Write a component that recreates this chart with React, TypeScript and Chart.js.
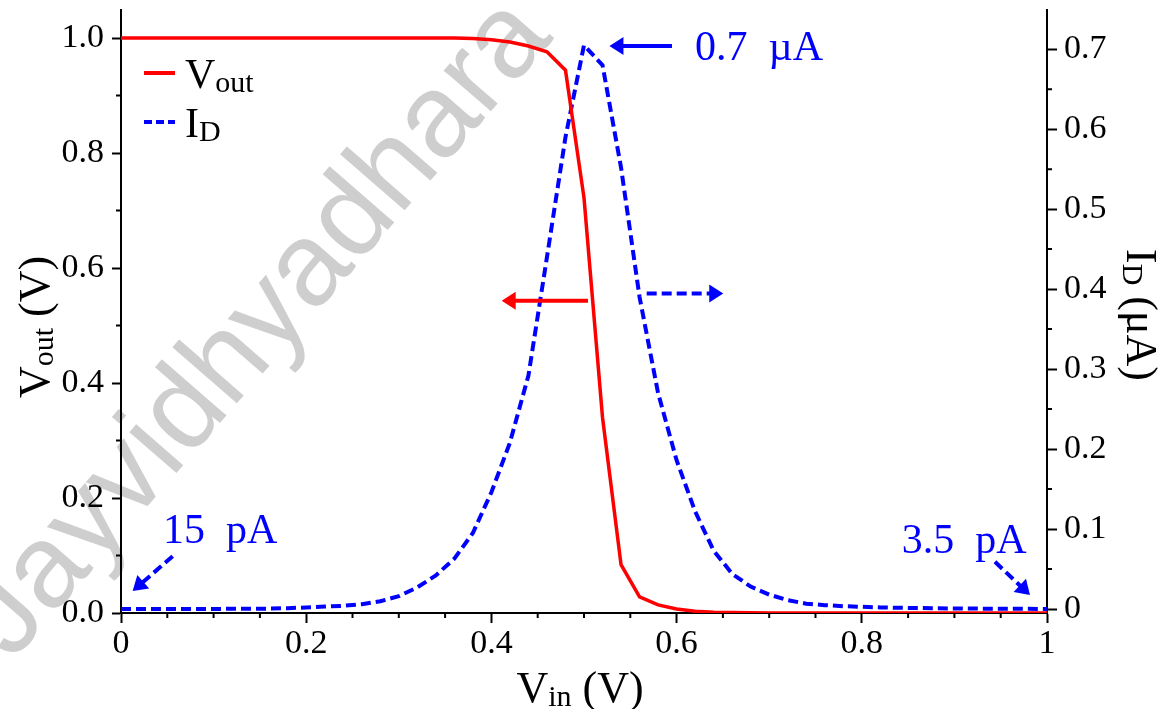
import React, { useEffect, useRef } from "react";
import { Chart, registerables } from "chart.js";

Chart.register(...registerables);

// ---------------- data ----------------
const vin = [
  0, 0.02, 0.04, 0.06, 0.08, 0.1, 0.12, 0.14, 0.16, 0.18,
  0.2, 0.22, 0.24, 0.26, 0.28, 0.3, 0.32, 0.34, 0.36, 0.38,
  0.4, 0.42, 0.44, 0.46, 0.48, 0.5, 0.52, 0.54, 0.56, 0.58,
  0.6, 0.62, 0.64, 0.66, 0.68, 0.7, 0.72, 0.74, 0.76, 0.78,
  0.8, 0.82, 0.84, 0.86, 0.88, 0.9, 0.92, 0.94, 0.96, 0.98, 1.0,
];

// Vout (V), left axis
const vout = [
  1, 1, 1, 1, 1, 1, 1, 1, 1, 1,
  1, 1, 1, 1, 1, 1, 1, 1, 1, 0.999,
  0.997, 0.993, 0.986, 0.976, 0.944, 0.722, 0.34, 0.084, 0.028, 0.014,
  0.007, 0.003, 0.0015, 0.0008, 0.0004, 0.0002, 0.0001, 0, 0, 0,
  0, 0, 0, 0, 0, 0, 0, 0, 0, 0, 0,
];

// I_D (µA), right axis
const idUA = [
  0.000015, 0.00002, 0.00003, 0.00005, 0.00008, 0.00013, 0.0002, 0.0003, 0.0005, 0.001,
  0.002, 0.003, 0.004, 0.006, 0.0097, 0.016, 0.027, 0.042, 0.063, 0.095,
  0.146, 0.208, 0.292, 0.44, 0.59, 0.705, 0.68, 0.552, 0.39, 0.27,
  0.186, 0.122, 0.073, 0.044, 0.028, 0.018, 0.011, 0.0067, 0.0048, 0.0035,
  0.0027, 0.002, 0.0015, 0.0012, 0.0009, 0.0007, 0.0005, 0.0004, 0.0003, 0.0002, 0.0000035,
];

const xTicks = [0, 0.2, 0.4, 0.6, 0.8, 1];
const xTickLabels = ["0", "0.2", "0.4", "0.6", "0.8", "1"];
const voutTicks = [0, 0.2, 0.4, 0.6, 0.8, 1.0];
const voutTickLabels = ["0.0", "0.2", "0.4", "0.6", "0.8", "1.0"];
const idTicks = [0, 0.1, 0.2, 0.3, 0.4, 0.5, 0.6, 0.7];
const idTickLabels = ["0", "0.1", "0.2", "0.3", "0.4", "0.5", "0.6", "0.7"];

// annotations, in data coordinates
const annotTexts = [
  { text: "0.7  \u00b5A", x: 0.62, y: 0.686, axis: "y1" },
  { text: "15  pA", x: 0.0454, y: 0.082, axis: "y1" },
  { text: "3.5  pA", x: 0.8431, y: 0.0704, axis: "y1" },
];
const annotArrows = [
  { from: [0.595, 0.704], to: [0.5275, 0.704], axis: "y1", color: "#0000ff", dashed: false },
  { from: [0.5043, 0.543], to: [0.4111, 0.543], axis: "y", color: "#ff0000", dashed: false },
  { from: [0.5677, 0.3946], to: [0.6504, 0.3946], axis: "y1", color: "#0000ff", dashed: true },
  { from: [0.0558, 0.066], to: [0.0126, 0.0225], axis: "y1", color: "#0000ff", dashed: true },
  { from: [0.9438, 0.059], to: [0.9816, 0.0175], axis: "y1", color: "#0000ff", dashed: true },
];

const FONT = "'Liberation Serif', 'Times New Roman', serif";
const RED = "#ff0000";
const BLUE = "#0000ff";

type Part = [string, number, number];

function richWidth(ctx: CanvasRenderingContext2D, parts: Part[]) {
  let w = 0;
  for (const [t, s] of parts) {
    ctx.font = `${s}px ${FONT}`;
    w += ctx.measureText(t).width;
  }
  return w;
}

function drawRich(ctx: CanvasRenderingContext2D, parts: Part[], x: number, y: number, align: string) {
  const w = richWidth(ctx, parts);
  let cx = align === "center" ? x - w / 2 : align === "right" ? x - w : x;
  ctx.textAlign = "left";
  ctx.textBaseline = "alphabetic";
  for (const [t, s, dy] of parts) {
    ctx.font = `${s}px ${FONT}`;
    ctx.fillText(t, cx, y + dy);
    cx += ctx.measureText(t).width;
  }
}

function drawArrow(ctx: CanvasRenderingContext2D, x1: number, y1: number, x2: number, y2: number, color: string, dashed: boolean) {
  const ang = Math.atan2(y2 - y1, x2 - x1);
  const headLen = 14;
  const headHalf = 9;
  const bx = x2 - headLen * Math.cos(ang);
  const by = y2 - headLen * Math.sin(ang);
  ctx.save();
  ctx.strokeStyle = color;
  ctx.fillStyle = color;
  ctx.lineWidth = 4;
  ctx.setLineDash(dashed ? [10, 5] : []);
  ctx.beginPath();
  ctx.moveTo(x1, y1);
  ctx.lineTo(bx + 2 * Math.cos(ang), by + 2 * Math.sin(ang));
  ctx.stroke();
  ctx.setLineDash([]);
  ctx.beginPath();
  ctx.moveTo(x2, y2);
  ctx.lineTo(bx - headHalf * Math.sin(ang), by + headHalf * Math.cos(ang));
  ctx.lineTo(bx + headHalf * Math.sin(ang), by - headHalf * Math.cos(ang));
  ctx.closePath();
  ctx.fill();
  ctx.restore();
}

const customPlugin = {
  id: "customDecor",
  beforeDraw(chart: any) {
    const ctx: CanvasRenderingContext2D = chart.ctx;
    ctx.save();
    ctx.fillStyle = "#ffffff";
    ctx.fillRect(0, 0, chart.width, chart.height);
    // watermark
    ctx.translate(12, 662);
    ctx.rotate((-49 * Math.PI) / 180);
    ctx.font = "118px 'Liberation Sans', Arial, sans-serif";
    ctx.fillStyle = "rgba(120,120,120,0.36)";
    ctx.textBaseline = "alphabetic";
    ctx.fillText("Jayvidhyadhara", 0, 0);
    ctx.restore();
  },
  afterDraw(chart: any) {
    const ctx: CanvasRenderingContext2D = chart.ctx;
    const xs = chart.scales.x;
    const ys = chart.scales.y;
    const y1s = chart.scales.y1;
    const area = chart.chartArea;
    ctx.save();
    // minor ticks
    ctx.strokeStyle = "#000";
    ctx.lineWidth = 2;
    ctx.beginPath();
    for (let k = 1; k < 20; k++) {
      if (k % 4 === 0) continue;
      const px = xs.getPixelForValue(k * 0.05);
      ctx.moveTo(px, area.bottom);
      ctx.lineTo(px, area.bottom + 5);
    }
    for (let k = 1; k < 10; k += 2) {
      const py = ys.getPixelForValue(k * 0.1);
      ctx.moveTo(area.left, py);
      ctx.lineTo(area.left - 5, py);
    }
    for (let k = 1; k < 14; k += 2) {
      const py = y1s.getPixelForValue(k * 0.05);
      ctx.moveTo(area.right, py);
      ctx.lineTo(area.right + 5, py);
    }
    ctx.stroke();

    // axis titles
    ctx.fillStyle = "#000";
    drawRich(ctx, [["V", 44, 0], ["in", 30, 4], [" (V)", 44, 0]], (area.left + area.right) / 2 - 4, 702, "center");
    ctx.save();
    ctx.translate(49, 327);
    ctx.rotate(-Math.PI / 2);
    drawRich(ctx, [["V", 44, 0], ["out", 30, 4], [" (V)", 44, 0]], 0, 0, "center");
    ctx.restore();
    ctx.save();
    ctx.translate(1127, 315);
    ctx.rotate(Math.PI / 2);
    drawRich(ctx, [["I", 44, 0], ["D", 30, 4], [" (\u03bcA)", 44, 0]], 0, 0, "center");
    ctx.restore();

    // legend
    const lx = area.left + 23;
    ctx.lineWidth = 4;
    ctx.strokeStyle = RED;
    ctx.beginPath();
    ctx.moveTo(lx, 73);
    ctx.lineTo(lx + 31, 73);
    ctx.stroke();
    ctx.strokeStyle = BLUE;
    ctx.setLineDash([8, 4]);
    ctx.beginPath();
    ctx.moveTo(lx, 122);
    ctx.lineTo(lx + 31, 122);
    ctx.stroke();
    ctx.setLineDash([]);
    ctx.fillStyle = "#000";
    drawRich(ctx, [["V", 42, 0], ["out", 30, 4]], lx + 41, 88, "left");
    drawRich(ctx, [["I", 42, 0], ["D", 30, 4]], lx + 41, 137, "left");

    // annotations
    for (const a of annotArrows) {
      const sc = a.axis === "y" ? ys : y1s;
      drawArrow(
        ctx,
        xs.getPixelForValue(a.from[0]),
        sc.getPixelForValue(a.from[1]),
        xs.getPixelForValue(a.to[0]),
        sc.getPixelForValue(a.to[1]),
        a.color,
        a.dashed
      );
    }
    ctx.fillStyle = BLUE;
    for (const t of annotTexts) {
      const sc = t.axis === "y" ? ys : y1s;
      ctx.font = `42px ${FONT}`;
      ctx.textAlign = "left";
      ctx.textBaseline = "alphabetic";
      ctx.fillText(t.text, xs.getPixelForValue(t.x), sc.getPixelForValue(t.y));
    }
    ctx.restore();
  },
};

function zeroPad(s: any) {
  s.paddingTop = 0;
  s.paddingBottom = 0;
  s.paddingLeft = 0;
  s.paddingRight = 0;
}

export default function App() {
  const ref = useRef<HTMLCanvasElement | null>(null);
  useEffect(() => {
    document.body.style.margin = "0";
    const canvas = ref.current;
    if (!canvas) return;
    const voutData = vin.map((x, i) => ({ x, y: vout[i] }));
    const idData = vin.map((x, i) => ({ x, y: idUA[i] }));
    const tickFont = { family: FONT, size: 34 };
    const chart = new Chart(canvas, {
      type: "line",
      data: {
        datasets: [
          {
            label: "Vout",
            data: voutData,
            yAxisID: "y",
            borderColor: RED,
            borderWidth: 3.5,
            pointRadius: 0,
            tension: 0,
            fill: false,
          },
          {
            label: "ID",
            data: idData,
            yAxisID: "y1",
            borderColor: BLUE,
            borderWidth: 4,
            borderDash: [10, 5],
            pointRadius: 0,
            tension: 0,
            fill: false,
          },
        ],
      },
      options: {
        animation: false,
        responsive: false,
        maintainAspectRatio: false,
        devicePixelRatio: 1,
        layout: { padding: { top: 10, left: 0, right: 0, bottom: 0 } },
        plugins: { legend: { display: false }, tooltip: { enabled: false } },
        scales: {
          x: {
            type: "linear",
            position: "bottom",
            min: 0,
            max: 1,
            afterBuildTicks: (s: any) => {
              s.ticks = xTicks.map((v) => ({ value: v }));
            },
            afterFit: (s: any) => {
              s.height = 96;
              zeroPad(s);
            },
            ticks: {
              callback: (_v: any, i: number) => xTickLabels[i],
              font: tickFont,
              color: "#000",
              padding: 1,
              maxRotation: 0,
              autoSkip: false,
            },
            grid: { drawOnChartArea: false, drawTicks: true, tickLength: 10, tickWidth: 2, tickColor: "#000" },
            border: { display: true, color: "#000", width: 2 },
          },
          y: {
            type: "linear",
            position: "left",
            min: 0,
            max: 1.0487,
            afterBuildTicks: (s: any) => {
              s.ticks = voutTicks.map((v) => ({ value: v }));
            },
            afterFit: (s: any) => {
              s.width = 121;
              zeroPad(s);
            },
            ticks: {
              callback: (_v: any, i: number) => voutTickLabels[i],
              font: tickFont,
              color: "#000",
              padding: 8,
              autoSkip: false,
            },
            grid: { drawOnChartArea: false, drawTicks: true, tickLength: 9, tickWidth: 2, tickColor: "#000" },
            border: { display: true, color: "#000", width: 2 },
          },
          y1: {
            type: "linear",
            position: "right",
            min: -0.005,
            max: 0.749,
            afterBuildTicks: (s: any) => {
              s.ticks = idTicks.map((v) => ({ value: v }));
            },
            afterFit: (s: any) => {
              s.width = 124;
              zeroPad(s);
            },
            ticks: {
              callback: (_v: any, i: number) => idTickLabels[i],
              font: tickFont,
              color: "#000",
              padding: 7,
              autoSkip: false,
            },
            grid: { drawOnChartArea: false, drawTicks: true, tickLength: 10, tickWidth: 2, tickColor: "#000" },
            border: { display: true, color: "#000", width: 2 },
          },
        },
      },
      plugins: [customPlugin],
    } as any);
    return () => chart.destroy();
  }, []);
  return <canvas ref={ref} width={1171} height={709} style={{ display: "block", width: 1171, height: 709 }} />;
}
